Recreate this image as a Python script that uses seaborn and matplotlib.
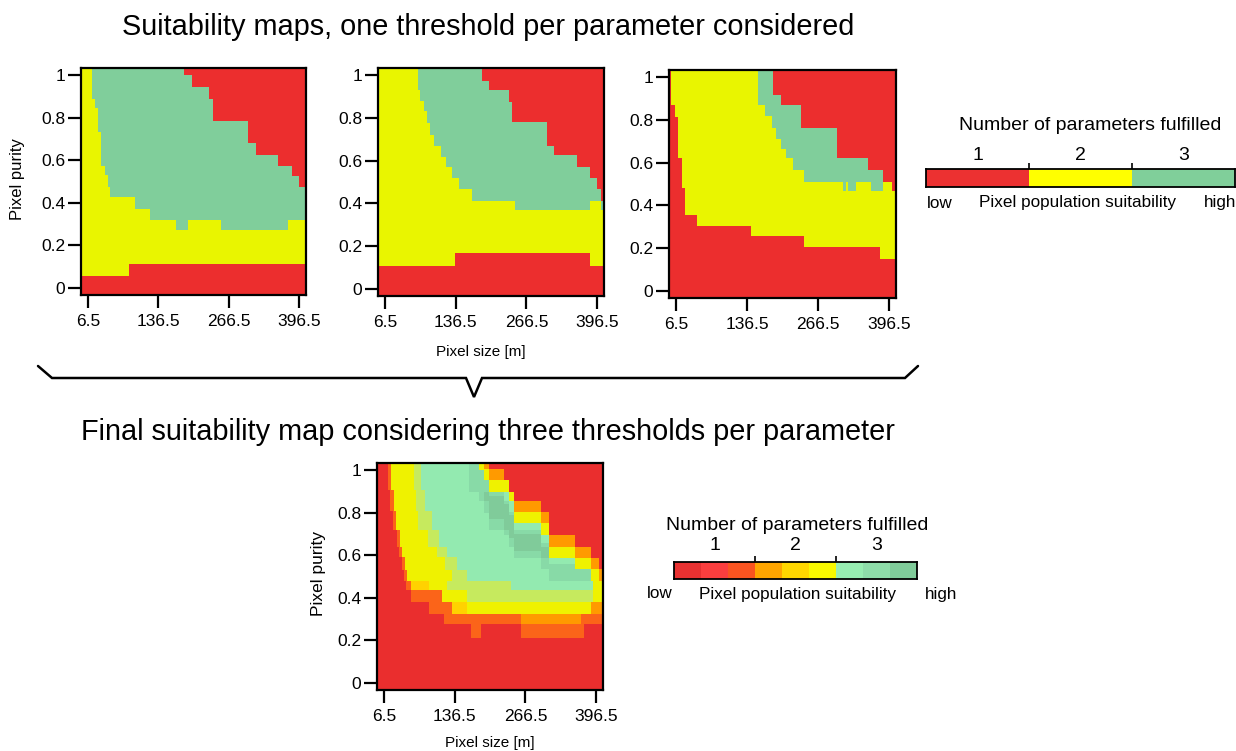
import numpy as np
import matplotlib
matplotlib.use("Agg")
import matplotlib.pyplot as plt
from matplotlib.colors import ListedColormap
from matplotlib.lines import Line2D
import seaborn as sns

sns.set_style("white")
plt.rcParams['font.family'] = ['Liberation Sans', 'DejaVu Sans']

# ---------------- data ----------------
XTICKS = [6.5, 136.5, 266.5, 396.5]
XTICK_LABELS = ["6.5", "136.5", "266.5", "396.5"]
YTICKS = [0, 0.2, 0.4, 0.6, 0.8, 1.0]
YTICK_LABELS = ["0", "0.2", "0.4", "0.6", "0.8", "1"]

LEGEND_NUMBERS = ["1", "2", "3"]
TOP_COLORS = ["#EC2E2E", "#E9F500", "#80CE9B"]          # 1, 2, 3 parameters
TOP_LEGEND_COLORS = ["#EC3131", "#FFFF00", "#80CF9A"]
FINAL_COLORS = ["#EA2E2E", "#F83C3C", "#FB6419", "#FF9A00", "#FFD200",
                "#EFF200", "#C6EA5E", "#93EAB0", "#88DAA7", "#80CB9A"]
FINAL_LEGEND_COLORS = ["#E83131", "#FB3E3E", "#FA5420", "#FFA500", "#FFD700",
                       "#F8F800", "#97EDB1", "#8EDDA9", "#80CC9A"]

# Map 1: boundaries (pixel size breakpoints -> purity)
m1_yellow_x = [-10, 81.7, 420]
m1_yellow_lo = [0.055, 0.111]
m1_green_x = [-10, 14.4, 18.7, 24.8, 29.7, 38.9, 43.2, 48.0, 93.9, 121.4, 170.2, 191.6, 252.7, 374.9, 420]
m1_green_lo = [1.2, 0.890, 0.843, 0.734, 0.577, 0.530, 0.475, 0.425, 0.368, 0.318, 0.268, 0.318, 0.268, 0.318]
m1_red_x = [-10, 184.3, 197.7, 231.3, 237.4, 301.6, 315.6, 356.6, 382.9, 396.3, 420]
m1_red_hi = [1.2, 1.0, 0.945, 0.890, 0.784, 0.679, 0.624, 0.577, 0.525, 0.475]

# Map 2
m2_yellow_x = [-10, 136.3, 383.0, 420]
m2_yellow_lo = [0.107, 0.165, 0.107]
m2_green_x = [-10, 67.1, 72.0, 78.1, 84.2, 89.1, 96.5, 108.7, 117.9, 130.2, 142.4, 166.9, 246.5, 383.0, 402.6, 420]
m2_green_lo = [1.2, 0.929, 0.882, 0.835, 0.773, 0.718, 0.671, 0.616, 0.569, 0.522, 0.467, 0.412, 0.368, 0.412, 0.368]
m2_red_x = [-10, 185.3, 197.5, 234.2, 240.4, 304.6, 316.9, 359.7, 384.2, 396.5, 403.8, 420]
m2_red_hi = [1.2, 0.976, 0.929, 0.875, 0.781, 0.671, 0.624, 0.569, 0.522, 0.467, 0.412]

# Map 3
m3_yellow_x = [-10, -2.7, 4.7, 10.8, 16.9, 24.3, 44.6, 142.9, 241.1, 379.3, 420]
m3_yellow_lo = [1.2, 0.868, 0.813, 0.618, 0.478, 0.354, 0.307, 0.255, 0.206, 0.151]
m3_green_x = [-10, 157.0, 170.5, 182.8, 188.9, 198.1, 207.3, 219.6, 241.1, 311.8, 317.9, 321.0, 336.3, 364.0, 385.5, 420]
m3_green_lo = [1.2, 0.868, 0.821, 0.766, 0.712, 0.665, 0.618, 0.564, 0.509, 0.463, 0.509, 0.463, 0.509, 0.463, 1.2]
m3_red_x = [-10, 184.0, 198.1, 235.0, 302.5, 357.8, 385.5, 400.8, 420]
m3_red_hi = [1.2, 0.922, 0.868, 0.766, 0.618, 0.564, 0.509, 0.463]

# Final map: left edges of each level per purity band (bottom -> top)
F_ROW_EDGES = [-0.1, 0.43, 0.48, 0.53, 0.59, 0.64, 0.72, 0.81, 0.91, 1.2]
F_L3 = [48, 48, 43, 40, 34, 30, 23, 18.5, 14]
F_L5 = [56, 56, 49, 46, 40, 36, 29, 25, 20]
F_L6 = [89, 89, 49, 46, 40, 36, 29, 25, 20]
F_L7 = [123, 123, 132, 118, 105, 88, 70, 65, 62]
F_L8 = [240, 240, 160, 140, 123, 108, 95, 82, 74]
# bottom edges per pixel-size column
F_BX = [-10, 56, 89, 114, 117, 123, 132, 160, 166, 185, 240, 258, 369, 375, 387, 390, 420]
F_B3 = [0.434, 0.378, 0.326, 0.326, 0.275, 0.275, 0.275, 0.275, 0.212, 0.275, 0.275, 0.212, 0.212, 0.275, 0.275, 0.275]
F_B4 = [0.434, 0.434, 0.434, 0.378, 0.378, 0.378, 0.326, 0.326, 0.326, 0.326, 0.326, 0.275, 0.326, 0.326, 0.326, 0.326]
F_B5 = [0.434, 0.434, 0.434, 0.378, 0.378, 0.378, 0.326, 0.326, 0.326, 0.326, 0.326, 0.326, 0.326, 0.326, 0.378, 0.378]
F_B6 = [0.481, 0.481, 0.434, 0.378, 0.378, 0.378, 0.378, 0.326, 0.326, 0.326, 0.326, 0.326, 0.326, 0.326, 0.378, 0.378]
F_B7 = [0.481, 0.481, 0.481, 0.481, 0.481, 0.434, 0.434, 0.378, 0.378, 0.378, 0.378, 0.378, 0.378, 0.378, 0.378, 0.49]
F_B8 = [0.481, 0.481, 0.481, 0.481, 0.481, 0.481, 0.481, 0.481, 0.481, 0.481, 0.434, 0.434, 0.434, 0.434, 0.434, 0.55]
# top edges per pixel-size column
F_TX = [-10, 163, 181, 191, 200, 228, 237, 246, 295, 310, 357, 387, 402, 420]
F_T3 = [1.2, 1.2, 1.2, 1.2, 1.005, 0.957, 0.902, 0.854, 0.806, 0.695, 0.64, 0.584, 0.537]
F_T6 = [1.2, 1.2, 1.2, 1.005, 0.957, 0.957, 0.902, 0.806, 0.751, 0.64, 0.584, 0.537, 0.481]
F_T8 = [1.2, 1.2, 1.0, 0.957, 0.902, 0.902, 0.854, 0.751, 0.695, 0.584, 0.537, 0.481, 0.433]
F_B9 = [1.2, 0.902, 0.854, 0.798, 0.72, 0.695, 0.64, 0.584, 0.537, 0.481, 0.481, 1.2, 1.2]
F_T9 = [1.2, 1.2, 1.0, 0.957, 0.902, 0.854, 0.806, 0.72, 0.66, 0.56, 0.537, 1.2, 1.2]
F_B10 = [1.2, 1.2, 1.2, 0.854, 0.77, 0.72, 0.68, 0.62, 0.584, 1.2, 1.2, 1.2, 1.2]
F_T10 = [1.2, 1.2, 1.2, 0.902, 0.88, 0.84, 0.79, 0.70, 0.64, 1.2, 1.2, 1.2, 1.2]

# ---------------- grid ----------------
XMIN, XMAX, DX = -6.0, 409.0, 1.0
YMIN, YMAX, DY = -0.035, 1.035, 0.005
NC = int(round((XMAX - XMIN) / DX))
NR = int(round((YMAX - YMIN) / DY))
xs = XMIN + DX * (np.arange(NC) + 0.5)
ys = YMIN + DY * (np.arange(NR) + 0.5)
X, Y = np.meshgrid(xs, ys)


def step(edges, vals, v):
    idx = np.searchsorted(np.asarray(edges), v, side='right') - 1
    idx = np.clip(idx, 0, len(vals) - 1)
    return np.asarray(vals, dtype=float)[idx]


def threshold_map(yx, ylo, gx, glo, rx, rhi):
    y_lo = step(yx, ylo, X)
    g_lo = step(gx, glo, X)
    r_hi = step(rx, rhi, X)
    code = np.ones(X.shape)
    code[(Y >= y_lo) & (Y <= r_hi)] = 2
    code[(Y >= g_lo) & (Y <= r_hi)] = 3
    return code


def final_map():
    code = np.ones(X.shape)
    spec = {
        3: (F_L3, F_B3, F_T3), 4: (F_L5, F_B4, F_T3), 5: (F_L5, F_B5, F_T6),
        6: (F_L6, F_B6, F_T6), 7: (F_L7, F_B7, F_T8), 8: (F_L8, F_B8, F_T8),
    }
    for k, (L, B, T) in spec.items():
        reg = (X >= step(F_ROW_EDGES, L, Y)) & (Y >= step(F_BX, B, X)) & (Y <= step(F_TX, T, X))
        code[reg] = k
    code[(Y >= step(F_TX, F_B9, X)) & (Y <= step(F_TX, F_T9, X))] = 9
    code[(Y >= step(F_TX, F_B10, X)) & (Y <= step(F_TX, F_T10, X))] = 10
    return code


# ---------------- figure ----------------
W, H = 1236, 751
fig = plt.figure(figsize=(W / 100, H / 100), dpi=100)


def add_ax(l, t, r, b):
    return fig.add_axes([l / W, 1 - b / H, (r - l) / W, (b - t) / H])


def ftext(x, y, s, **kw):
    fig.text(x / W, 1 - y / H, s, color='black', **kw)


def draw_map(ax, code, colors):
    sns.heatmap(code, ax=ax, cmap=ListedColormap(colors), vmin=0.5, vmax=len(colors) + 0.5,
                cbar=False, xticklabels=False, yticklabels=False, rasterized=True)
    ax.set_xlim(0, NC)
    ax.set_ylim(0, NR)
    ax.set_xticks([(v - XMIN) / DX for v in XTICKS])
    ax.set_xticklabels(XTICK_LABELS, rotation=0)
    ax.set_yticks([(v - YMIN) / DY for v in YTICKS])
    ax.set_yticklabels(YTICK_LABELS, rotation=0)
    for s in ax.spines.values():
        s.set_visible(True)
        s.set_color('black')
        s.set_linewidth(1.6)
    ax.tick_params(axis='both', which='major', direction='out', length=9.5, width=1.6,
                   color='black', labelsize=12.5, labelcolor='black', bottom=True, left=True)
    ax.tick_params(axis='x', pad=4)
    ax.tick_params(axis='y', pad=2)
    ax.set_xlabel('')
    ax.set_ylabel('')


def draw_legend(ax, colors, group):
    n = len(colors)
    sns.heatmap(np.arange(1, n + 1).reshape(1, -1), ax=ax, cmap=ListedColormap(colors),
                vmin=0.5, vmax=n + 0.5, cbar=False, xticklabels=False, yticklabels=False)
    ax.set_xlim(0, n)
    ax.set_ylim(1, 0)
    for s in ax.spines.values():
        s.set_visible(True)
        s.set_color('black')
        s.set_linewidth(1.3)
    ax.xaxis.tick_top()
    ax.set_xticks([group, 2 * group])
    ax.set_xticklabels([])
    ax.set_yticks([])
    ax.tick_params(axis='x', top=True, bottom=False, direction='out', length=4, width=1.2, color='black')


ax1 = add_ax(81, 68, 306, 295)
ax2 = add_ax(378, 68, 604, 296)
ax3 = add_ax(669, 70, 896, 298)
ax4 = add_ax(377, 463, 603, 690)

draw_map(ax1, threshold_map(m1_yellow_x, m1_yellow_lo, m1_green_x, m1_green_lo, m1_red_x, m1_red_hi), TOP_COLORS)
draw_map(ax2, threshold_map(m2_yellow_x, m2_yellow_lo, m2_green_x, m2_green_lo, m2_red_x, m2_red_hi), TOP_COLORS)
draw_map(ax3, threshold_map(m3_yellow_x, m3_yellow_lo, m3_green_x, m3_green_lo, m3_red_x, m3_red_hi), TOP_COLORS)
draw_map(ax4, final_map(), FINAL_COLORS)

# titles and labels
ftext(488, 27, "Suitability maps, one threshold per parameter considered", ha='center', va='center', fontsize=20.8)
ftext(488, 432, "Final suitability map considering three thresholds per parameter", ha='center', va='center', fontsize=20.8)
ftext(18, 179, "Pixel purity", ha='center', va='center', rotation=90, fontsize=12)
ftext(319, 573, "Pixel purity", ha='center', va='center', rotation=90, fontsize=12.5)
ftext(481, 352, "Pixel size [m]", ha='center', va='center', fontsize=11)
ftext(490, 743, "Pixel size [m]", ha='center', va='center', fontsize=11)

# brace
bx = np.array([38, 52, 466, 474, 482, 905, 918])
by = np.array([366, 378, 378, 397, 378, 378, 366])
fig.add_artist(Line2D(bx / W, 1 - by / H, transform=fig.transFigure, color='black',
                      lw=1.8, solid_joinstyle='miter'))

# legend 1
lg1 = add_ax(926, 169, 1235, 187)
draw_legend(lg1, TOP_LEGEND_COLORS, 1)
ftext(1090, 125, "Number of parameters fulfilled", ha='center', va='center', fontsize=14)
for i, s in enumerate(LEGEND_NUMBERS):
    ftext(926 + 309 * (i + 0.5) / 3, 155, s, ha='center', va='center', fontsize=14)
ftext(927, 203, "low", ha='left', va='center', fontsize=12.3)
ftext(1078, 203, "Pixel population suitability", ha='center', va='center', fontsize=12.3)
ftext(1236, 203, "high", ha='right', va='center', fontsize=12.3)

# legend 2
lg2 = add_ax(674, 562, 917, 579)
draw_legend(lg2, FINAL_LEGEND_COLORS, 3)
ftext(797, 525, "Number of parameters fulfilled", ha='center', va='center', fontsize=14)
for i, s in enumerate(LEGEND_NUMBERS):
    ftext(674 + 243 * (3 * i + 1.5) / 9, 546, s, ha='center', va='center', fontsize=14)
ftext(647, 594, "low", ha='left', va='center', fontsize=12.3)
ftext(798, 594, "Pixel population suitability", ha='center', va='center', fontsize=12.3)
ftext(925, 594, "high", ha='left', va='center', fontsize=12.3)

fig.savefig("out.png", dpi=100, facecolor='white')
